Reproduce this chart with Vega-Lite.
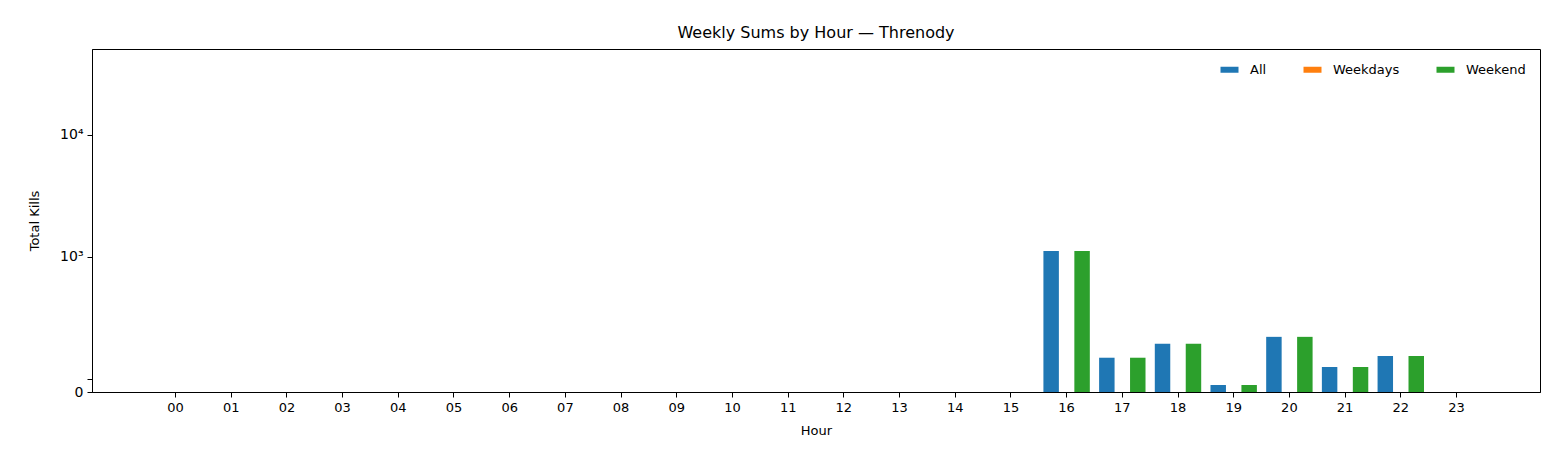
{
  "$schema": "https://vega.github.io/schema/vega-lite/v6.json",
  "autosize": "none",
  "width": 1448,
  "height": 343,
  "padding": {"left": 92, "top": 49, "right": 20, "bottom": 76},
  "background": "white",
  "config": {
    "font": "DejaVu Sans",
    "view": {"stroke": "black", "strokeWidth": 1},
    "axis": {"grid": false, "domainColor": "black", "tickColor": "black", "labelColor": "black", "titleColor": "black", "labelFontSize": 13, "titleFontSize": 13, "titleFontWeight": "normal", "tickSize": 5, "labelPadding": 4}
  },
  "title": {"text": "Weekly Sums by Hour — Threnody", "fontSize": 16, "fontWeight": "normal", "offset": 8},
  "data": {
    "values": [
      {"hour": "16", "series": "All", "kills": 1120},
      {"hour": "17", "series": "All", "kills": 149},
      {"hour": "18", "series": "All", "kills": 194},
      {"hour": "19", "series": "All", "kills": 89},
      {"hour": "20", "series": "All", "kills": 221},
      {"hour": "21", "series": "All", "kills": 125},
      {"hour": "22", "series": "All", "kills": 154},
      {"hour": "16", "series": "Weekend", "kills": 1120},
      {"hour": "17", "series": "Weekend", "kills": 149},
      {"hour": "18", "series": "Weekend", "kills": 194},
      {"hour": "19", "series": "Weekend", "kills": 89},
      {"hour": "20", "series": "Weekend", "kills": 221},
      {"hour": "21", "series": "Weekend", "kills": 125},
      {"hour": "22", "series": "Weekend", "kills": 154}
    ]
  },
  "mark": "bar",
  "encoding": {
    "x": {
      "field": "hour", "type": "nominal", "title": "Hour",
      "scale": {"domain": ["00","01","02","03","04","05","06","07","08","09","10","11","12","13","14","15","16","17","18","19","20","21","22","23"], "paddingInner": 0, "paddingOuter": 1.2},
      "axis": {"labelAngle": 0, "titlePadding": 10}
    },
    "xOffset": {
      "field": "series", "type": "nominal",
      "scale": {"domain": ["All", "Weekdays", "Weekend"], "paddingInner": 0, "paddingOuter": 0.3}
    },
    "y": {
      "field": "kills", "type": "quantitative", "title": "Total Kills",
      "scale": {"type": "log", "domain": [78, 50700], "nice": false},
      "axis": {"values": [78, 100, 1000, 10000], "labelExpr": "datum.value < 90 ? '0' : datum.value < 500 ? '10²' : datum.value < 5000 ? '10³' : '10⁴'", "labelFontSize": 14, "titlePadding": 18}
    },
    "y2": {"datum": 78},
    "color": {
      "field": "series", "type": "nominal",
      "scale": {"domain": ["All", "Weekdays", "Weekend"], "range": ["#1f77b4", "#ff7f0e", "#2ca02c"]},
      "legend": {"title": null, "orient": "top-right", "direction": "horizontal", "symbolType": "M-1.8,-0.6H1.8V0.6H-1.8Z", "symbolSize": 100, "labelFontSize": 13, "labelOffset": 14, "columnPadding": 36, "symbolStrokeWidth": 0, "offset": 14}
    }
  }
}
